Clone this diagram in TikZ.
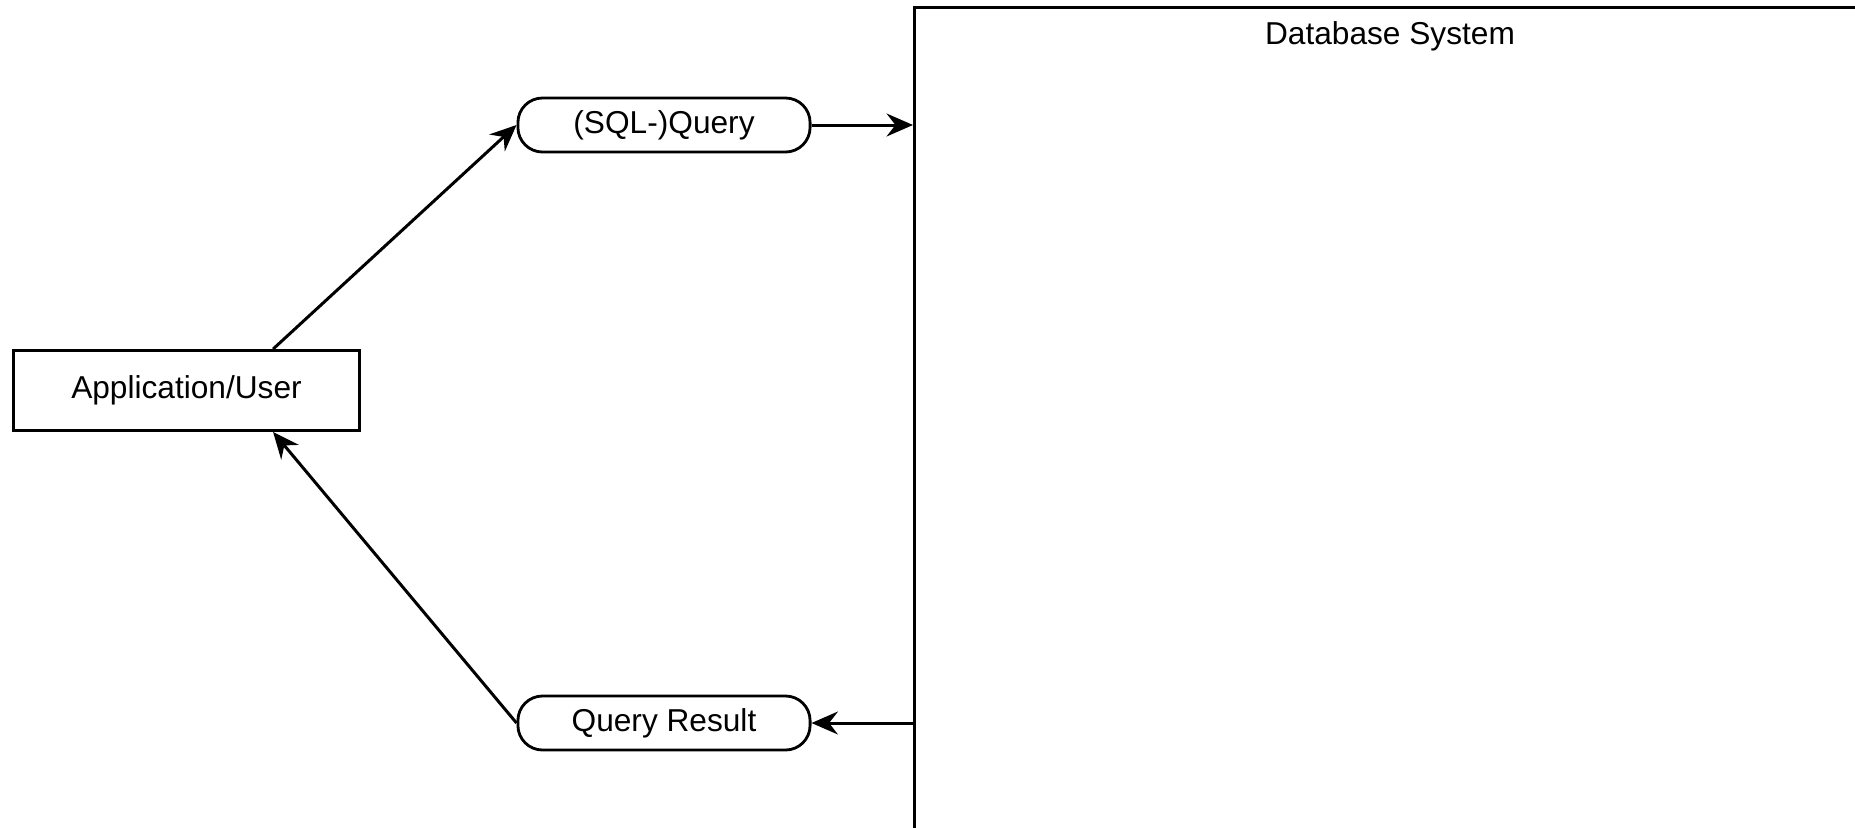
\documentclass[tikz,border=0pt]{standalone}
\usepackage{fontspec}
\setmainfont{Liberation Sans}
\usetikzlibrary{arrows.meta}

\tikzset{
  box/.style={draw,line width=0.8pt,minimum width=3.46cm,minimum height=0.8cm,inner sep=0pt},
  msg/.style={draw,line width=0.8pt,rounded corners=7pt,minimum width=2.92cm,minimum height=0.54cm,inner sep=0pt},
  flow/.style={line width=0.85pt,-{Stealth[length=7.5pt,width=6.5pt,inset=2.5pt]}}
}

\begin{document}
\begin{tikzpicture}[x=0.01cm,y=-0.01cm,font=\fontsize{9}{11}\selectfont]
            \clip (0,0) rectangle (1855,827);
            \node[draw,line width=0.8pt,minimum width=9.45cm,minimum height=8.4cm,anchor=north west] (db) at (913,6) {};
            \node[anchor=north] (dbtitle) at (1390,9) {Database System};
            \node[box] (app) at (186.5,390.5) {Application/User};
            \node[msg] (query) at (664,125) {(SQL-)Query};
            \node[msg] (result) at (664,723) {Query Result};
            \draw[flow] ([xshift=0.865cm]app.north) -- (query.west);
            \draw[flow] (query.east) -- (query.east -| db.west);
            \draw[flow] (result.east -| db.west) -- (result.east);
            \draw[flow] (result.west) -- ([xshift=0.865cm]app.south);
        \end{tikzpicture}
\end{document}
